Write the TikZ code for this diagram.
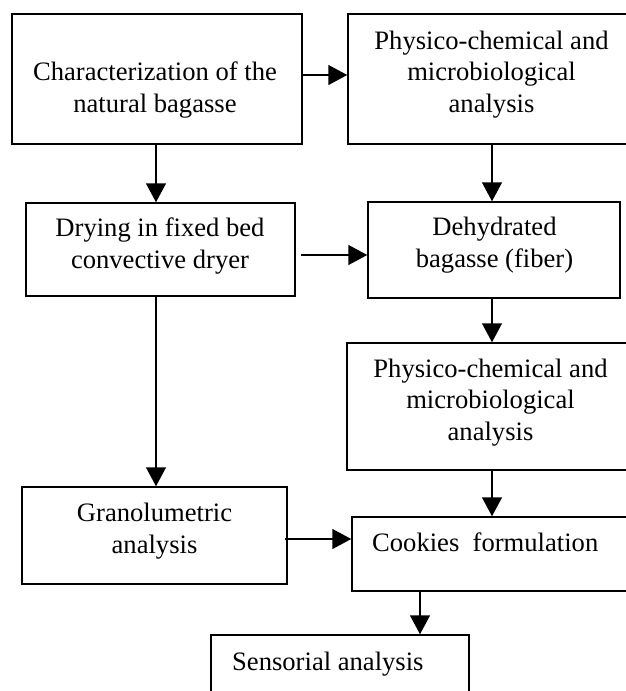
\documentclass[tikz,border=0pt]{standalone}
\usepackage{fontspec}
\setmainfont{Liberation Serif}
\usetikzlibrary{arrows.meta}
\tikzset{
  box/.style={draw=black, line width=1.5pt, rectangle, inner sep=0pt},
  txt/.style={align=center, inner sep=0pt, font=\fontsize{26.6}{31.5}\selectfont},
  arr/.style={line width=1.5pt, -{Triangle[length=19pt,width=20pt]}}
}
\begin{document}
\begin{tikzpicture}[x=1pt,y=-1pt]
\useasboundingbox (0,0) rectangle (626,691);
\clip (0,0) rectangle (626,691);
\fill[white] (0,0) rectangle (626,691);
% boxes
\node[box, minimum width=290, minimum height=130] (b1) at (157,79) {};
\node[box, minimum width=287, minimum height=130] (b2) at (491.5,79) {};
\node[box, minimum width=269, minimum height=93] (b3) at (160.5,249.5) {};
\node[box, minimum width=252, minimum height=96] (b4) at (494,250) {};
\node[box, minimum width=287, minimum height=127] (b5) at (490.5,406.5) {};
\node[box, minimum width=265, minimum height=97] (b6) at (154.5,535.5) {};
\node[box, minimum width=288, minimum height=74] (b7) at (496,554) {};
\node[box, minimum width=258, minimum height=80] (b8) at (340,675) {};
% texts (anchor base = baseline of the last line)
\node[txt, anchor=base] (t1) at (155,112) {Characterization of the\\natural bagasse};
\node[txt, anchor=base] (t2) at (491.5,112) {Physico-chemical and\\microbiological\\analysis};
\node[txt, anchor=base] (t3) at (160,268) {Drying in fixed bed\\convective dryer};
\node[txt, anchor=base] (t4) at (494.5,267) {Dehydrated\\bagasse (fiber)};
\node[txt, anchor=base] (t5) at (490.5,440) {Physico-chemical and\\microbiological\\analysis};
\node[txt, anchor=base] (t6) at (154.5,553) {Granolumetric\\analysis};
\node[txt, anchor=base west] (t7) at (372,551) {Cookies\ \ formulation};
\node[txt, anchor=base west] (t8) at (232,670) {Sensorial analysis};
% connectors
\draw[arr] (b1.east |- 0,75) -- (b2.west |- 0,75);
\draw[arr] (b1.south -| 156,0) -- (b3.north -| 156,0);
\draw[arr] (b2.south -| 492,0) -- (b4.north -| 492,0);
\draw[arr] ([xshift=5pt]b3.east |- 0,255) -- (b4.west |- 0,255);
\draw[arr] (b3.south -| 156,0) -- (b6.north -| 156,0);
\draw[arr] (b4.south -| 492,0) -- (b5.north -| 492,0);
\draw[arr] (b5.south -| 492,0) -- (b7.north -| 492,0);
\draw[arr] ([xshift=-3pt]b6.east |- 0,539) -- (b7.west |- 0,539);
\draw[arr] (b7.south -| 420,0) -- (b8.north -| 420,0);
\end{tikzpicture}
\end{document}
